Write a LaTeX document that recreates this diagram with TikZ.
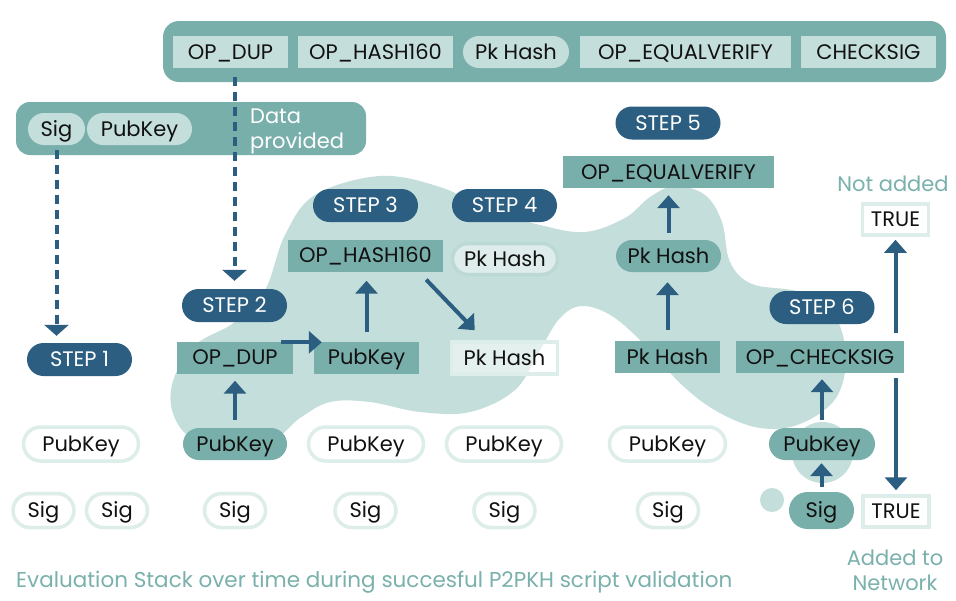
\documentclass[tikz,border=0pt]{standalone}
\usepackage{fontspec}
\setmainfont{Poppins}
\usetikzlibrary{arrows.meta,calc}
\definecolor{dblue}{HTML}{2B5E80}
\definecolor{mteal}{HTML}{79AFAB}
\definecolor{lteal}{HTML}{C4DFDB}
\definecolor{pale}{HTML}{DDEDEA}
\definecolor{paler}{HTML}{B9D7D3}
\definecolor{tealtext}{HTML}{7AB1AD}
\definecolor{ink}{HTML}{111111}
\begin{document}
\begin{tikzpicture}[x=1pt,y=-1pt,
  font=\fontsize{21}{25}\selectfont,
  base/.style={inner sep=0pt, minimum height=32pt, text=ink, anchor=center,
    text height=17pt, text depth=2.3pt},
  lop/.style={base, fill=lteal},
  lpill/.style={base, fill=lteal, rounded corners=16pt},
  mop/.style={base, fill=mteal},
  mpill/.style={base, fill=mteal, rounded corners=16pt},
  stepnode/.style={base, fill=dblue, text=white, minimum width=105pt, minimum height=33pt, rounded corners=16.5pt},
  wpill/.style={base, draw=pale, line width=3.5pt, fill=white, minimum width=61pt, minimum height=34pt, rounded corners=17pt},
  tpill/.style={base, draw=paler!70!lteal, line width=3.5pt, fill=white, fill opacity=0.45, text opacity=1, minimum height=31pt, rounded corners=15.5pt},
  trect/.style={base, draw=pale, line width=3.5pt, fill=white, fill opacity=0.55, text opacity=1, minimum height=32pt},
  wrect/.style={base, draw=pale, line width=3.5pt, fill=white, minimum height=31pt},
  bar/.style={fill=mteal, inner sep=0pt, rounded corners=16pt},
  lbl/.style={inner sep=0pt, text=tealtext, align=center},
  arr/.style={draw=dblue, line width=4pt, -{Triangle[width=22pt,length=13pt]}},
  dasharr/.style={draw=dblue, line width=4pt, dash pattern=on 9pt off 6pt, -{Triangle[width=24pt,length=11pt]}}
]
\useasboundingbox (0,0) rectangle (956,600);
\fill[white] (0,0) rectangle (956,600);

% blobs
\fill[lteal] plot[smooth cycle, tension=0.6] coordinates {
 (380,176) (440,187) (490,210) (540,225) (585,232) (625,218) (650,197) (675,186)
 (705,195) (722,222) (730,262) (752,284) (800,292) (833,313) (846,355) (836,398)
 (800,424) (760,428) (718,412) (682,385) (645,345) (612,316) (582,306) (560,318)
 (540,350) (515,390) (470,412) (420,412) (370,402) (330,402) (300,418) (275,438)
 (230,445) (190,437) (172,410) (174,378) (195,345) (235,322) (265,290) (285,235)
 (315,195)};
\fill[lteal] (822.5,452.5) circle (30.5);
\fill[lteal] (772,500) circle (12);

% script bar
\node[bar, minimum width=783pt, minimum height=61pt] (scriptbar) at (554.5,51.5) {};
\node[lop, minimum width=115pt] (tdup) at (230.5,52) {OP\_DUP};
\node[lop, minimum width=155pt] (thash) at (375.5,52) {OP\_HASH160};
\node[lpill, minimum width=106pt] (tpk) at (516,52) {Pk Hash};
\node[lop, minimum width=211pt] (teq) at (685.5,52) {OP\_EQUALVERIFY};
\node[lop, minimum width=135pt] (tchk) at (868.5,52) {CHECKSIG};

% data bar
\node[bar, rounded corners=14pt, minimum width=350pt, minimum height=53pt] (databar) at (191,128.5) {};
\node[lpill, minimum width=57pt] (dsig) at (56.5,129) {Sig};
\node[lpill, minimum width=105pt] (dpub) at (139.5,129) {PubKey};
\node[inner sep=0pt, anchor=west, text=white, align=left] (dtext) at (250,131) {Data\\provided};

% steps
\node[stepnode] (s1) at (79.5,359.5) {STEP 1};
\node[stepnode] (s2) at (234.5,305.5) {STEP 2};
\node[stepnode] (s3) at (365.5,205.5) {STEP 3};
\node[stepnode] (s4) at (504.5,205.5) {STEP 4};
\node[stepnode] (s5) at (668,123) {STEP 5};
\node[stepnode] (s6) at (822,307.5) {STEP 6};

% column 1
\node[wpill, minimum width=115pt] (pk1) at (81,444) {PubKey};
\node[wpill] (sig1a) at (43.5,510.5) {Sig};
\node[wpill] (sig1b) at (117,510.5) {Sig};

% step 2
\node[mop, minimum width=116pt] (dup) at (235,357.5) {OP\_DUP};
\node[mop, minimum width=105pt] (pkb) at (366.5,357.5) {PubKey};
\node[mpill, minimum width=104pt] (pk2) at (235,444) {PubKey};
\node[wpill] (sig2) at (235,510.5) {Sig};

% step 3
\node[mop, minimum width=155pt] (hash) at (365.5,255.5) {OP\_HASH160};
\node[wpill, minimum width=115pt] (pk3) at (366,444) {PubKey};
\node[wpill] (sig3) at (365.5,510.5) {Sig};

% step 4
\node[tpill, minimum width=105pt] (pkh4a) at (505,259) {Pk Hash};
\node[trect, minimum width=106pt] (pkh4b) at (504.5,358) {Pk Hash};
\node[wpill, minimum width=115pt] (pk4) at (504,444) {PubKey};
\node[wpill] (sig4) at (504.5,510.5) {Sig};

% step 5
\node[mop, minimum width=211pt] (eqv) at (668.5,172) {OP\_EQUALVERIFY};
\node[mpill, minimum width=105pt] (pkh5a) at (668.5,256) {Pk Hash};
\node[mop, minimum width=105pt] (pkh5b) at (667.5,357) {Pk Hash};
\node[wpill, minimum width=116pt] (pk5) at (667.5,444) {PubKey};
\node[wpill] (sig5) at (668,510.5) {Sig};

% step 6
\node[mop, minimum width=168pt] (chk) at (820,357) {OP\_CHECKSIG};
\node[mpill, minimum width=106pt] (pk6) at (822,444) {PubKey};
\node[mpill, minimum width=65pt, minimum height=37pt, rounded corners=18.5pt] (sig6) at (821.5,510.5) {Sig};
\node[wrect, minimum width=66pt] (trueU) at (895.5,219.5) {TRUE};
\node[wrect, minimum width=66pt] (trueD) at (896,511.5) {TRUE};

% labels
\node[lbl] (notadded) at (893,184) {Not added};
\node[lbl] (added) at (895,570) {Added to\\Network};
\node[lbl, anchor=west, font=\fontsize{21.5}{25}\selectfont] (caption) at (16,582) {Evaluation Stack over time during succesful P2PKH script validation};

% connectors
\draw[dasharr, shorten <=5pt, shorten >=7pt] (dsig.south) -- (dsig.south |- s1.north);
\draw[dasharr, shorten <=9pt, shorten >=8pt] (s2.north |- tdup.south) -- (s2.north);
\draw[arr, shorten <=8pt, shorten >=7pt] (pk2.north) -- (pk2.north |- dup.south);
\draw[arr] ([shift={(-12,1)}]dup.north east) -- ([shift={(8,1)}]pkb.north west);
\draw[arr, shorten <=9pt, shorten >=9pt] (pkb.north) -- (pkb.north |- hash.south);
\draw[arr] ([shift={(-17,8)}]hash.south east) -- ([shift={(25,-10)}]pkh4b.north west);
\draw[arr, shorten <=11pt, shorten >=10pt] (pkh5b.north) -- (pkh5b.north |- pkh5a.south);
\draw[arr, shorten <=7pt, shorten >=7pt] (pkh5a.north) -- (pkh5a.north |- eqv.south);
\draw[arr, shorten <=8pt, shorten >=6pt] (pk6.north) -- (pk6.north |- chk.south);
\draw[arr, shorten <=5pt, shorten >=3pt] (sig6.north) -- (sig6.north |- pk6.south);
\draw[arr, shorten <=8pt, shorten >=3pt] (trueU.south |- chk.north) -- (trueU.south);
\draw[arr, shorten <=5pt, shorten >=4pt] (trueD.north |- chk.south) -- (trueD.north);
\end{tikzpicture}
\end{document}
